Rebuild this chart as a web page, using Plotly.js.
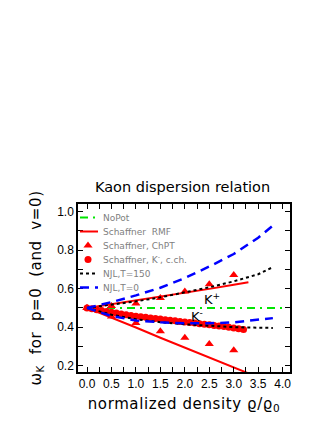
<!DOCTYPE html>
<html>
<head>
<meta charset="utf-8">
<script src="https://cdn.plot.ly/plotly-3.0.1.min.js"></script>
<style>
  html, body { margin: 0; padding: 0; background: #fff; }
  #plotter { width: 332px; height: 430px; }
  #plotter .xtitle, #plotter .ytitle { letter-spacing: 0.6px; }
</style>
</head>
<body>
<div id="plotter"></div>
<script>
// no potential: flat line
var noPotX = [0.0, 4.0];
var noPotY = [0.5, 0.5];

// Schaffner RMF, K+ (upper) and K- (lower) branches
var rmfUpX = [0.0, 0.5, 1.0, 1.5, 2.0, 2.5, 3.0, 3.3];
var rmfUpY = [0.5, 0.519, 0.539, 0.559, 0.579, 0.599, 0.620, 0.633];
var rmfLoX = [0.0, 0.5, 1.0, 1.5, 2.0, 2.5, 3.0, 3.3];
var rmfLoY = [0.5, 0.450, 0.398, 0.345, 0.293, 0.241, 0.189, 0.160];

// Schaffner ChPT triangles
var chptX = [0.0, 0.5, 1.0, 1.5, 2.0, 2.5, 3.0];
var chptUpY = [0.5, 0.51, 0.523, 0.552, 0.585, 0.623, 0.671];
var chptLoY = [0.5, 0.456, 0.422, 0.379, 0.345, 0.313, 0.280];

// Schaffner K-, coupled channels (dense dots)
var cchX = [0.0, 0.1, 0.2, 0.3, 0.4, 0.5, 0.6, 0.7, 0.8, 0.9, 1.0,
            1.1, 1.2, 1.3, 1.4, 1.5, 1.6, 1.7, 1.8, 1.9, 2.0,
            2.1, 2.2, 2.3, 2.4, 2.5, 2.6, 2.7, 2.8, 2.9, 3.0, 3.1, 3.2];
var cchY = [0.5, 0.496, 0.491, 0.486, 0.481, 0.477, 0.473, 0.469, 0.465, 0.461, 0.457,
            0.454, 0.451, 0.448, 0.445, 0.442, 0.439, 0.436, 0.433, 0.430, 0.427,
            0.424, 0.421, 0.418, 0.415, 0.412, 0.409, 0.406, 0.403, 0.400, 0.396, 0.392, 0.388];

// NJL, T=150
var njl150X = [0.0, 0.5, 1.0, 1.5, 2.0, 2.5, 3.0, 3.5, 3.8];
var njl150UpY = [0.5, 0.516, 0.534, 0.555, 0.579, 0.607, 0.638, 0.675, 0.712];
var njl150LoY = [0.5, 0.465, 0.441, 0.426, 0.415, 0.406, 0.400, 0.397, 0.396];

// NJL, T=0
var njl0X = [0.0, 0.5, 1.0, 1.5, 2.0, 2.5, 3.0, 3.5, 3.8];
var njl0UpY = [0.5, 0.530, 0.565, 0.605, 0.655, 0.715, 0.780, 0.865, 0.928];
var njl0LoY = [0.5, 0.458, 0.435, 0.425, 0.420, 0.420, 0.425, 0.437, 0.447];

// join two branches into one trace with a gap
function both(xa, ya, xb, yb) {
    return { x: xa.concat([null]).concat(xb), y: ya.concat([null]).concat(yb) };
}

var rmf = both(rmfUpX, rmfUpY, rmfLoX, rmfLoY);
var chpt = both(chptX, chptUpY, chptX, chptLoY);
var njl150 = both(njl150X, njl150UpY, njl150X, njl150LoY);
var njl0 = both(njl0X, njl0UpY, njl0X, njl0LoY);

var data = [{
    x: noPotX, y: noPotY, name: 'NoPot', mode: 'lines', type: 'scatter',
    line: {color: '#00e600', width: 2, dash: '8px,5px,2px,5px'}
}, {
    x: rmf.x, y: rmf.y, name: 'Schaffner  RMF', mode: 'lines', type: 'scatter',
    line: {color: '#ff0000', width: 2}
}, {
    x: chpt.x, y: chpt.y, name: 'Schaffner, ChPT', mode: 'markers', type: 'scatter',
    marker: {color: '#ff0000', symbol: 'triangle-up', size: 8}
}, {
    x: cchX, y: cchY, name: 'Schaffner, K<sup>-</sup>, c.ch.', mode: 'markers', type: 'scatter',
    marker: {color: '#ff0000', symbol: 'circle', size: 7}
}, {
    x: njl150.x, y: njl150.y, name: 'NJL,T=150', mode: 'lines', type: 'scatter',
    line: {color: '#000000', width: 2, dash: 'dot'}
}, {
    x: njl0.x, y: njl0.y, name: 'NJL,T=0', mode: 'lines', type: 'scatter',
    line: {color: '#0000ff', width: 2.5, dash: '9px,6px'}
}];

var wide = 'DejaVu Sans, Verdana, sans-serif';

var layout = {
    width: 332,
    height: 430,
    margin: {l: 78, r: 42, t: 204, b: 58},
    paper_bgcolor: '#ffffff',
    plot_bgcolor: '#ffffff',
    font: {family: 'Liberation Sans, Arial, sans-serif', color: '#000'},
    title: {
        text: 'Kaon dispersion relation',
        font: {family: wide, size: 14.5, color: '#000'},
        x: 0.55, xanchor: 'center',
        y: 0.565, yanchor: 'middle'
    },
    showlegend: true,
    legend: {
        x: 0, y: 1.0, xanchor: 'left', yanchor: 'top',
        bgcolor: 'rgba(0,0,0,0)',
        font: {family: wide, size: 9, color: '#808080'},
        tracegroupgap: 0
    },
    xaxis: {
        range: [-0.184, 4.15],
        dtick: 0.5, tick0: 0, tickformat: '.1f',
        ticks: 'inside', ticklen: 5, tickwidth: 1.2, tickcolor: '#000',
        minor: {dtick: 0.25, ticks: 'inside', ticklen: 5, tickcolor: '#000', showgrid: false},
        showline: true, linecolor: '#000', linewidth: 1.5, mirror: 'allticks',
        showgrid: false, zeroline: false,
        tickfont: {size: 12},
        title: {text: 'normalized density ϱ/ϱ<sub>0</sub>', font: {family: wide, size: 15}, standoff: 8}
    },
    yaxis: {
        range: [0.167, 1.04],
        dtick: 0.2, tick0: 0, tickformat: '.1f',
        ticks: 'inside', ticklen: 5, tickwidth: 1.2, tickcolor: '#000',
        minor: {dtick: 0.1, ticks: 'inside', ticklen: 5, tickcolor: '#000', showgrid: false},
        showline: true, linecolor: '#000', linewidth: 1.5, mirror: 'allticks',
        showgrid: false, zeroline: false,
        tickfont: {size: 12},
        title: {text: 'ω<sub>K</sub>  for  p=0  (and  v=0)', font: {family: wide, size: 15}, standoff: 12}
    },
    annotations: [{
        x: 2.55, y: 0.545, xref: 'x', yref: 'y', text: 'K<sup>+</sup>',
        showarrow: false, font: {family: wide, size: 13, color: '#000'}
    }, {
        x: 2.24, y: 0.46, xref: 'x', yref: 'y', text: 'K<sup>-</sup>',
        showarrow: false, font: {family: wide, size: 13, color: '#000'}
    }]
};

// tighten the legend: shorter symbols, 14px rows
function packLegend(gd) {
    var items = gd.querySelectorAll('.legend .traces');
    if (!items.length) return;
    var m = /translate\(\s*[-\d.]+\s*,\s*([-\d.]+)/.exec(items[0].getAttribute('transform') || '');
    var y0 = (m ? parseFloat(m[1]) : 9) - 1;
    items.forEach(function(g, i) {
        g.setAttribute('transform', 'translate(0,' + (y0 + 14 * i) + ')');
        g.querySelectorAll('.legendlines path').forEach(function(p) {
            p.setAttribute('d', 'M2,0h18');
        });
        g.querySelectorAll('.scatterpts').forEach(function(p) {
            p.setAttribute('transform', 'translate(10,0)');
        });
        var t = g.querySelector('.legendtext');
        if (t) {
            t.setAttribute('x', 25);
            t.querySelectorAll('tspan[x]').forEach(function(s) { s.setAttribute('x', 25); });
        }
    });
}

Plotly.newPlot('plotter', data, layout, {displayModeBar: false}).then(packLegend);
</script>
</body>
</html>
